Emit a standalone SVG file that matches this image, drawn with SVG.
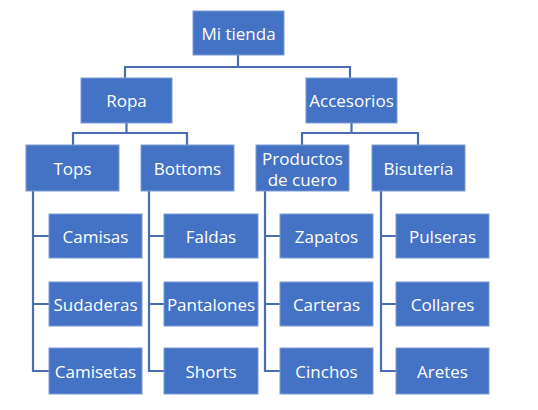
<svg xmlns="http://www.w3.org/2000/svg" width="538" height="410" viewBox="0 0 538 410">
<style>
.n{fill:#4472C4;stroke:#7d9bd4;stroke-width:1}
.t{font-family:"Open Sans","Liberation Sans",sans-serif;font-size:17px;fill:#fff;text-anchor:middle;dominant-baseline:central}
.c{fill:none;stroke:#4A6DB0;stroke-width:2.2}
</style>
<rect width="538" height="410" fill="#fff"/>
<g id="connectors">
<path class="c" d="M238,55 V67 M125,78 V67 H350 V78"/>
<path class="c" d="M126.5,123 V133 M73,145 V133 H187 V145"/>
<path class="c" d="M351.5,123 V133 M302,145 V133 H418 V145"/>
<path class="c" d="M33,191 V371 H49 M33,236 H49 M33,304 H49"/>
<path class="c" d="M149,191 V371 H164 M149,236 H164 M149,304 H164"/>
<path class="c" d="M265,191 V371 H280 M265,236 H280 M265,304 H280"/>
<path class="c" d="M381,191 V371 H396 M381,236 H396 M381,304 H396"/>
</g>
<g id="mi-tienda"><rect class="n" x="193" y="11" width="91" height="44"/><text class="t" x="238.5" y="33">Mi tienda</text></g>
<g id="ropa"><rect class="n" x="81" y="78" width="91" height="45"/><text class="t" x="126.5" y="100.5">Ropa</text></g>
<g id="accesorios"><rect class="n" x="306" y="78" width="91" height="45"/><text class="t" x="351.5" y="100.5">Accesorios</text></g>
<g id="tops"><rect class="n" x="26" y="145" width="93" height="46"/><text class="t" x="72.5" y="168">Tops</text></g>
<g id="bottoms"><rect class="n" x="141" y="145" width="93" height="46"/><text class="t" x="187.5" y="168">Bottoms</text></g>
<g id="productos"><rect class="n" x="256" y="145" width="93" height="46"/><text class="t" x="302.5" y="158">Productos</text><text class="t" x="302.5" y="179">de cuero</text></g>
<g id="bisuteria"><rect class="n" x="372" y="145" width="93" height="46"/><text class="t" x="418.5" y="168">Bisutería</text></g>
<g id="camisas"><rect class="n" x="49" y="214" width="93" height="44"/><text class="t" x="95.5" y="236">Camisas</text></g>
<g id="sudaderas"><rect class="n" x="49" y="282" width="93" height="44"/><text class="t" x="95.5" y="304">Sudaderas</text></g>
<g id="camisetas"><rect class="n" x="49" y="348" width="93" height="46"/><text class="t" x="95.5" y="371">Camisetas</text></g>
<g id="faldas"><rect class="n" x="164" y="214" width="94" height="44"/><text class="t" x="211" y="236">Faldas</text></g>
<g id="pantalones"><rect class="n" x="164" y="282" width="94" height="44"/><text class="t" x="211" y="304">Pantalones</text></g>
<g id="shorts"><rect class="n" x="164" y="348" width="94" height="46"/><text class="t" x="211" y="371">Shorts</text></g>
<g id="zapatos"><rect class="n" x="280" y="214" width="93" height="44"/><text class="t" x="326.5" y="236">Zapatos</text></g>
<g id="carteras"><rect class="n" x="280" y="282" width="93" height="44"/><text class="t" x="326.5" y="304">Carteras</text></g>
<g id="cinchos"><rect class="n" x="280" y="348" width="93" height="46"/><text class="t" x="326.5" y="371">Cinchos</text></g>
<g id="pulseras"><rect class="n" x="396" y="214" width="93" height="44"/><text class="t" x="442.5" y="236">Pulseras</text></g>
<g id="collares"><rect class="n" x="396" y="282" width="93" height="44"/><text class="t" x="442.5" y="304">Collares</text></g>
<g id="aretes"><rect class="n" x="396" y="348" width="93" height="46"/><text class="t" x="442.5" y="371">Aretes</text></g>
</svg>
